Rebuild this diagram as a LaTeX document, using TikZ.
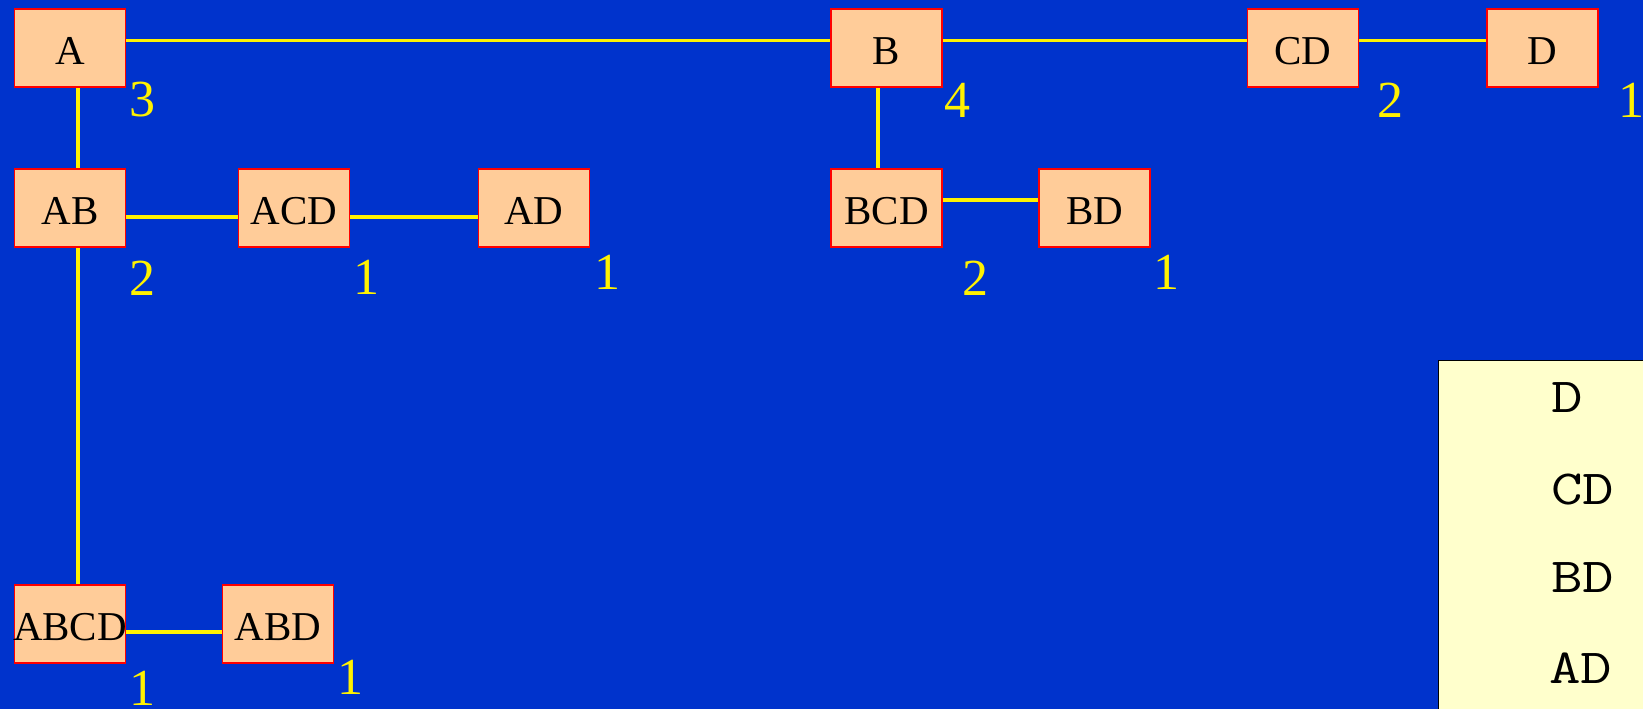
\documentclass[tikz,border=0pt]{standalone}
\usepackage{fontspec}
\setmainfont{Liberation Serif}
\definecolor{slide}{RGB}{0, 51, 204}
\definecolor{peach}{RGB}{255, 204, 153}
\definecolor{note}{RGB}{255, 255, 204}

\newcommand{\wide}[1]{\scalebox{1.25}[1]{#1}}

\tikzset{
  item/.style={draw=red, fill=peach, line width=1.5pt, inner sep=0pt,
    text height=33pt, text depth=0pt,
    minimum width=111pt, minimum height=78pt, font=\fontsize{41}{41}\selectfont},
  count/.style={text=yellow, inner sep=0pt, font=\fontsize{52}{52}\selectfont},
  link/.style={yellow, line width=3.2pt},
  entry/.style={anchor=west, inner sep=0pt, font=\ttfamily\fontsize{49}{49}\selectfont}
}

\begin{document}
\begin{tikzpicture}[x=1pt, y=-1pt]
  \fill[slide] (0, 0) rectangle (1643, 709);
  \useasboundingbox (0, 0) rectangle (1643, 709);

  % first row
  \node[item] (A)   at (70, 48)     {A};
  \node[item] (B)   at (886.5, 48)  {B};
  \node[item] (CD)  at (1303, 48)   {CD};
  \node[item] (D)   at (1542.5, 48) {D};

  % second row
  \node[item] (AB)  at (70, 208)     {AB};
  \node[item] (ACD) at (294, 208)    {ACD};
  \node[item] (AD)  at (534, 208)    {AD};
  \node[item] (BCD) at (886.5, 208)  {BCD};
  \node[item] (BD)  at (1094.5, 208) {BD};

  % bottom row, ABCD is wider than its box
  \node[item] (ABCD) at (70, 624)  {\makebox[100pt]{ABCD}};
  \node[item] (ABD)  at (278, 624) {ABD};

  % links between the sets
  \draw[link] ([yshift=7.5pt]A.east) -- ([yshift=7.5pt]B.west);
  \draw[link] ([yshift=7.5pt]B.east) -- ([yshift=7.5pt]CD.west);
  \draw[link] ([yshift=7.5pt]CD.east) -- ([yshift=7.5pt]D.west);
  \draw[link] ([xshift=8pt]A.south) -- ([xshift=8pt]AB.north);
  \draw[link] ([xshift=8pt]AB.south) -- ([xshift=8pt]ABCD.north);
  \draw[link] ([yshift=-9pt]AB.east) -- ([yshift=-9pt]ACD.west);
  \draw[link] ([yshift=-9pt]ACD.east) -- ([yshift=-9pt]AD.west);
  \draw[link] ([xshift=-8.5pt]B.south) -- ([xshift=-8.5pt]BCD.north);
  \draw[link] ([yshift=8pt]BCD.east) -- ([yshift=8pt]BD.west);
  \draw[link] ([yshift=-8pt]ABCD.east) -- ([yshift=-8pt]ABD.west);

  % counts
  \node[count] (nA)    at (142, 100)    {3};
  \node[count] (nB)    at (957.5, 100)  {4};
  \node[count] (nCD)   at (1390.5, 100) {2};
  \node[count] (nD)    at (1631, 100)   {1};
  \node[count] (nAB)   at (142, 278)    {2};
  \node[count] (nACD)  at (366, 277)    {1};
  \node[count] (nAD)   at (607, 272)    {1};
  \node[count] (nBCD)  at (975, 278)    {2};
  \node[count] (nBD)   at (1166, 272)   {1};
  \node[count] (nABCD) at (142, 688)    {1};
  \node[count] (nABD)  at (350, 677)    {1};

  % list on the right
  \filldraw[fill=note, draw=black, line width=1pt] (1438, 360) rectangle (1660, 720);
  \node[entry] (lD)  at (1551, 398) {\wide{D}};
  \node[entry] (lCD) at (1551, 490) {\wide{CD}};
  \node[entry] (lBD) at (1551, 578) {\wide{BD}};
  \node[entry] (lAD) at (1549, 668) {\wide{AD}};
\end{tikzpicture}
\end{document}
